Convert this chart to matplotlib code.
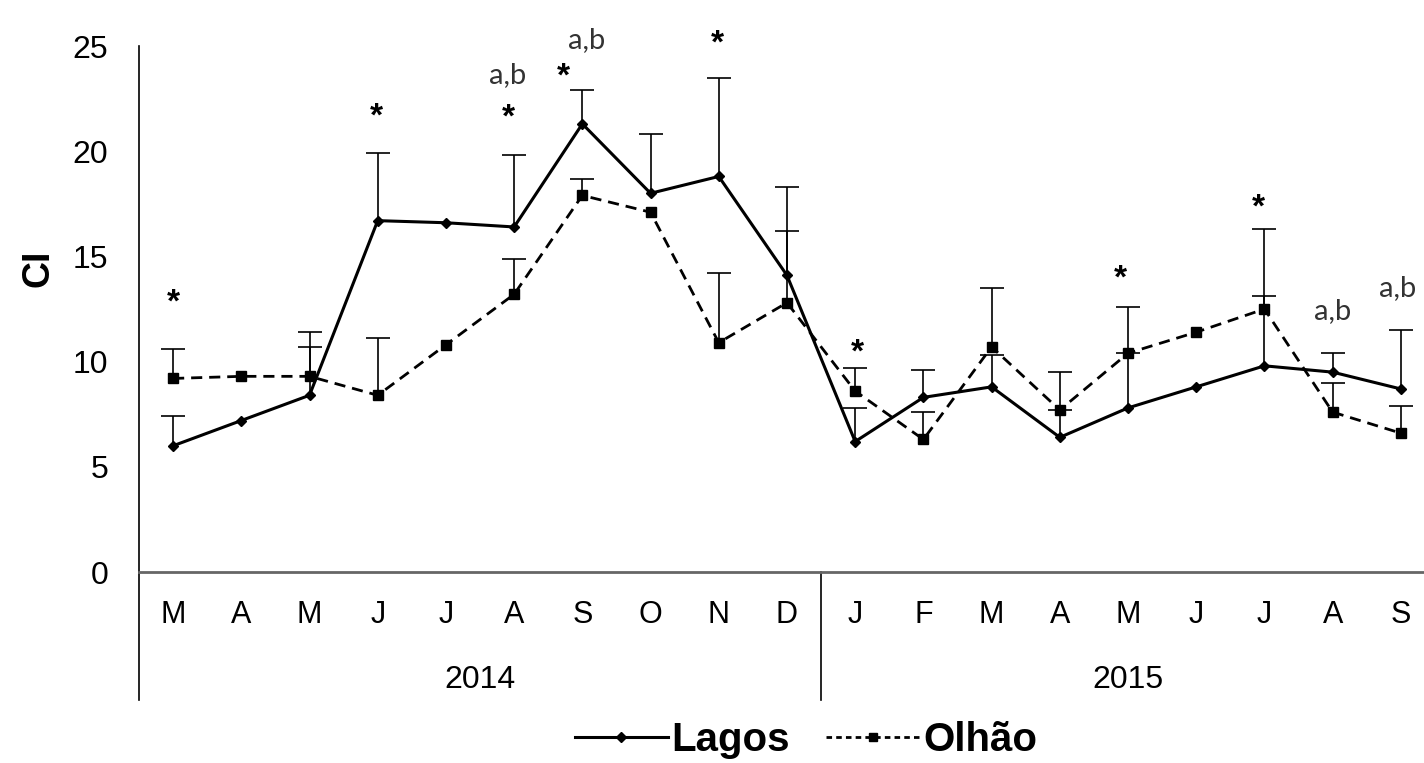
import numpy as np
import matplotlib.pyplot as plt
from matplotlib.lines import Line2D
import matplotlib.transforms as mtransforms

plt.rcParams['font.family'] = ['Liberation Sans', 'DejaVu Sans']

months = ["M", "A", "M", "J", "J", "A", "S", "O", "N", "D",
          "J", "F", "M", "A", "M", "J", "J", "A", "S"]
years = ["2014", "2015"]
year_centers = [4.5, 14.0]
year_split = 9.5

lagos = [6.0, 7.2, 8.4, 16.7, 16.6, 16.4, 21.3, 18.0, 18.8, 14.1,
         6.2, 8.3, 8.8, 6.4, 7.8, 8.8, 9.8, 9.5, 8.7]
lagos_err = [1.4, 0, 2.3, 3.2, 0, 3.4, 1.6, 2.8, 4.7, 4.2,
             1.6, 1.3, 1.5, 1.3, 2.6, 0, 3.3, 0.9, 2.8]
olhao = [9.2, 9.3, 9.3, 8.4, 10.8, 13.2, 17.9, 17.1, 10.9, 12.8,
         8.6, 6.3, 10.7, 7.7, 10.4, 11.4, 12.5, 7.6, 6.6]
olhao_err = [1.4, 0, 2.1, 2.7, 0, 1.7, 0.8, 0, 3.3, 3.4,
             1.1, 1.3, 2.8, 1.8, 2.2, 0, 3.8, 1.4, 1.3]

# significance marks (x in category units, y = visual centre)
star_x = [0.0, 2.98, 4.91, 5.72, 7.98, 10.03, 13.89, 15.91]
star_y = [13.3, 22.1, 22.05, 24.0, 25.6, 10.9, 14.4, 17.8]
ab_x = [4.91, 6.07, 17.0, 17.95]
ab_y = [23.6, 25.3, 12.4, 13.5]

fig = plt.figure(figsize=(14.24, 7.63), dpi=100)
ax = fig.add_axes([0.0976, 0.2503, 0.9101, 0.6894])

x = np.arange(len(months))

# upper-only error bars, cap only at the top
for vals, errs in [(lagos, lagos_err), (olhao, olhao_err)]:
    v = np.array(vals)
    e = np.array(errs)
    m = e > 0
    ax.vlines(x[m], v[m], v[m] + e[m], color='black', lw=1.2, zorder=2)
    ax.plot(x[m], v[m] + e[m], ls='none', marker='_', ms=17, mew=1.2,
            color='black', zorder=2)

ax.plot(x, lagos, color='black', lw=2.2, marker='D', ms=5, zorder=3)
ax.plot(x, olhao, color='black', lw=2.0, dashes=(4, 2.5), marker='s', ms=7, zorder=3)

for sx, sy in zip(star_x, star_y):
    ax.text(sx, sy - 0.9, "*", ha='center', va='baseline', fontsize=24,
            fontweight='bold', clip_on=False)
for tx, ty in zip(ab_x, ab_y):
    ax.text(tx, ty, "a,b", ha='center', va='center', fontsize=21,
            family=['Lato', 'DejaVu Sans'], color='#333333')

ax.set_xlim(-0.5, 18.5)
ax.set_ylim(0, 25)
ax.set_yticks([0, 5, 10, 15, 20, 25])
ax.set_xticks(x, months)
ax.tick_params(axis='y', length=0, pad=22, labelsize=23)
ax.tick_params(axis='x', length=0, pad=20, labelsize=22)

for s in ['top', 'right']:
    ax.spines[s].set_visible(False)
ax.spines['left'].set_color('black')
ax.spines['left'].set_linewidth(1.2)
ax.spines['bottom'].set_color('#666666')
ax.spines['bottom'].set_linewidth(2)

trans = mtransforms.blended_transform_factory(ax.transData, ax.transAxes)
ax.plot([-0.5, -0.5], [0, -0.243], transform=trans, color='black', lw=1.2, clip_on=False)
ax.plot([year_split, year_split], [0, -0.243], transform=trans, color='black', lw=1.2, clip_on=False)
for yc, yl in zip(year_centers, years):
    ax.text(yc, -0.205, yl, transform=trans, ha='center', va='center', fontsize=23)

ax.set_ylabel("CI", fontsize=27, fontweight='bold')
ax.yaxis.set_label_coords(-0.064, 0.578)

handles = [
    Line2D([], [], color='black', lw=2.2, marker='D', ms=5),
    Line2D([], [], color='black', lw=2.0, dashes=(2, 1.5), marker='s', ms=6),
]
fig.legend(handles, ["Lagos", "Olhão"], loc='center', bbox_to_anchor=(0.566, 0.03),
           ncol=2, frameon=False, prop={'weight': 'bold', 'size': 29},
           handlelength=2.3, handletextpad=0.1, columnspacing=0.9)

fig.savefig("out.png", dpi=100)
